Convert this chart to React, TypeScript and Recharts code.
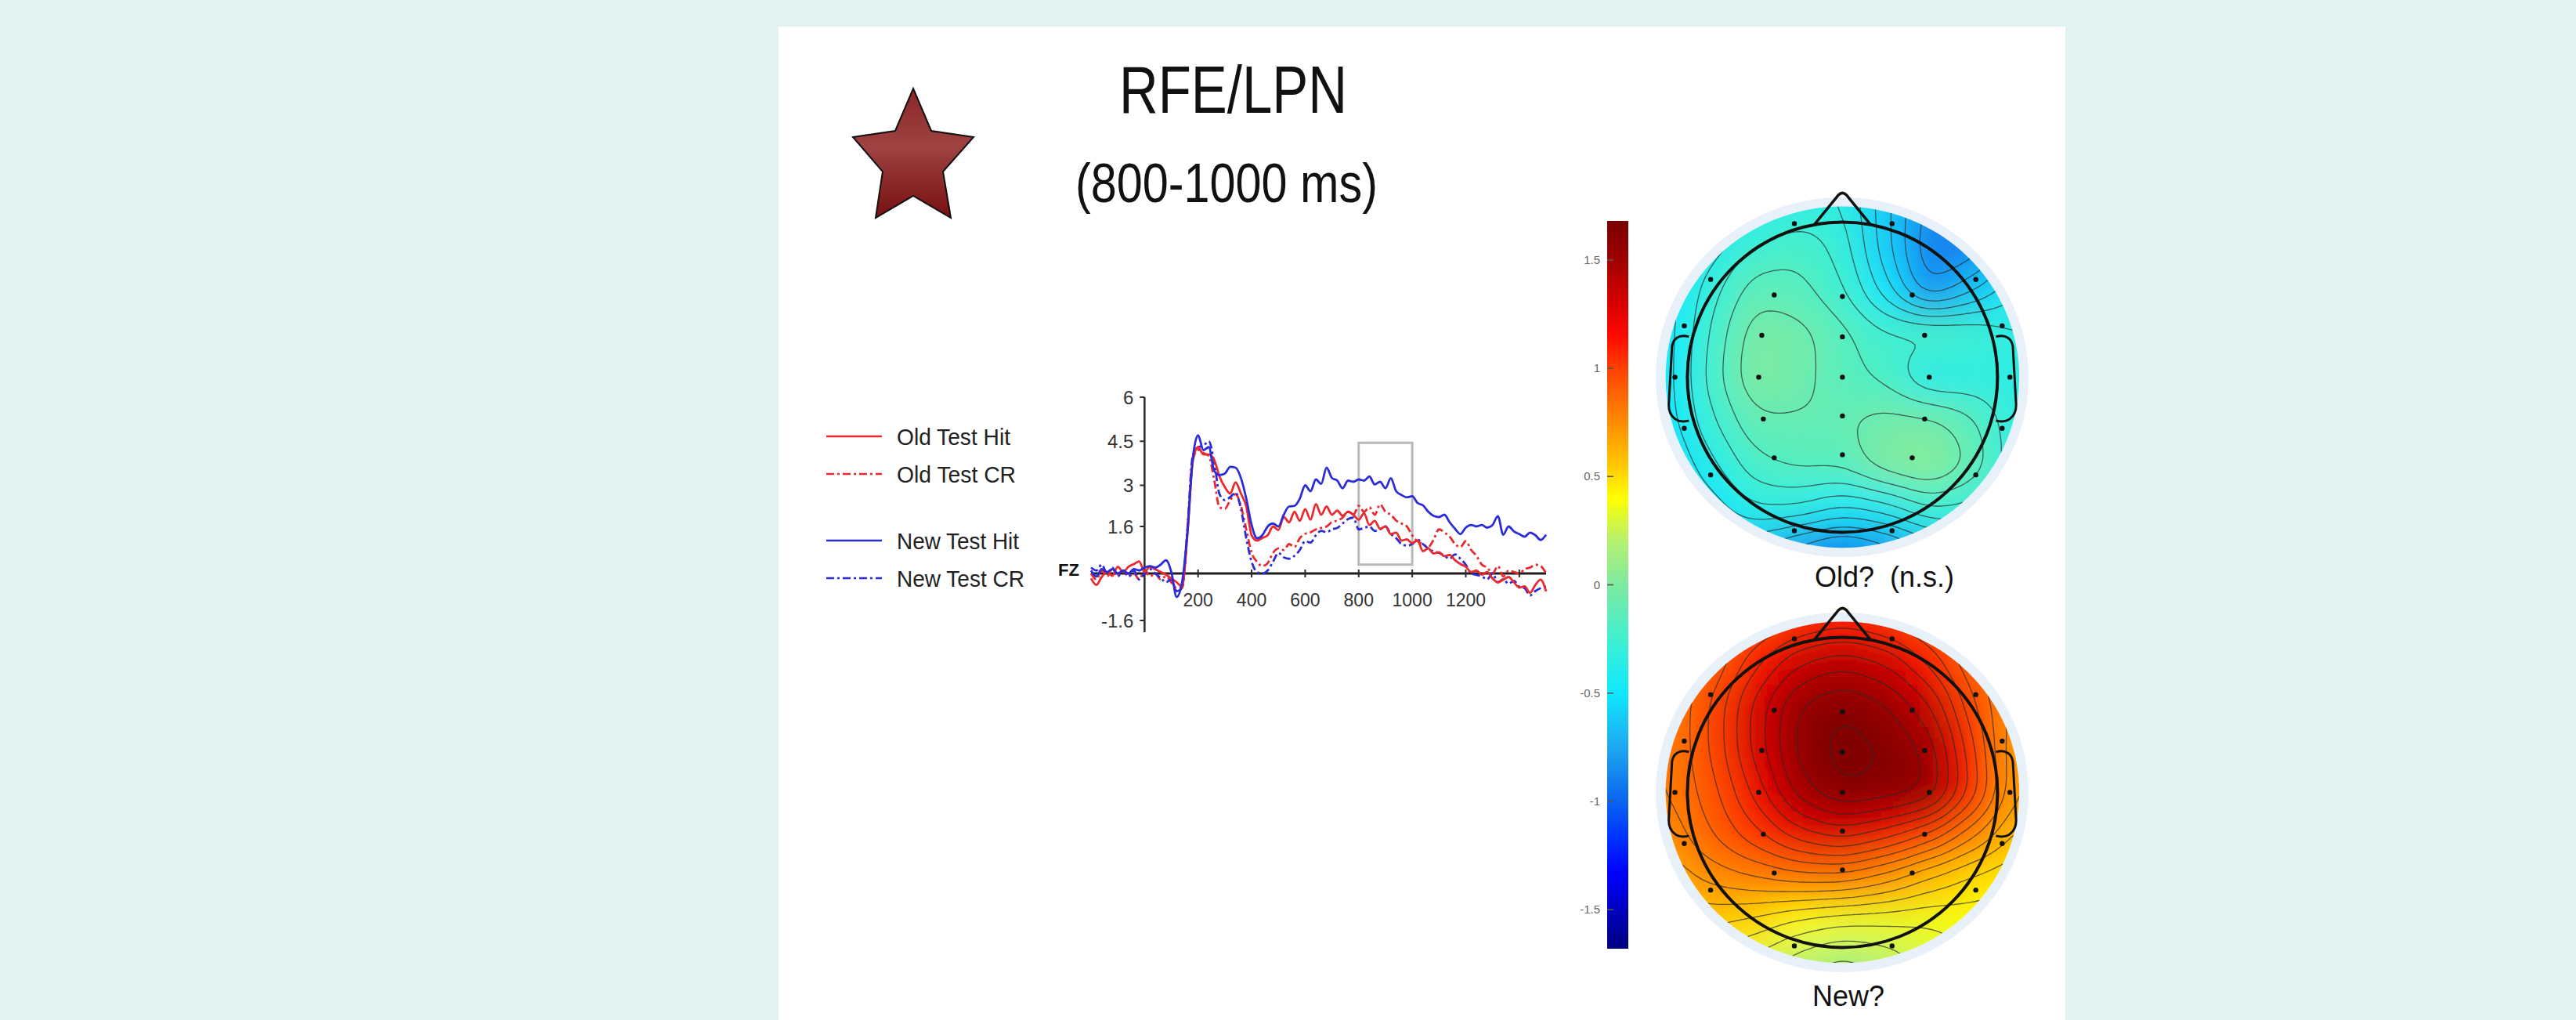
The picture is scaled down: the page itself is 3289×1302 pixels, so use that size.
import React from "react";
import {
  LineChart,
  Line,
  XAxis,
  YAxis,
  ReferenceLine,
  ReferenceArea,
  ReferenceDot,
  Legend,
  ScatterChart,
  Scatter,
  ComposedChart,
} from "recharts";

const SANS = "'Liberation Sans', Arial, sans-serif";
const RED = "#ea2a2e";
const BLUE = "#2b2bd8";

// ERP at FZ, sampled every 20 ms from -200 to 1500 ms
const TIMES = Array.from({ length: 86 }, (_, i) => -200 + i * 20);

const OLD_HIT = [
  -0.17, -0.39, -0.12, 0.05, -0.08, 0.23, 0.05, 0.23, 0.32, 0.41,
  0.05, 0.23, 0.14, 0.05, -0.04, -0.17, -0.3, -0.45, 1.3, 3.8,
  4.3, 4.05, 4.05, 3.87, 3.3, 2.94, 2.72, 3.1, 2.72, 2.28,
  1.3, 1.12, 1.21, 1.3, 1.6, 1.48, 1.92, 1.74, 2.1, 1.79,
  2.19, 1.83, 2.36, 2.0, 2.28, 2.0, 2.14, 1.96, 2.1, 2.0,
  1.83, 2.05, 1.65, 1.79, 1.52, 1.6, 1.34, 1.39, 1.12, 1.16,
  1.03, 1.12, 0.76, 0.85, 0.68, 0.72, 0.59, 0.63, 0.45, 0.32,
  0.23, 0.05, 0.1, -0.04, 0.05, -0.17, -0.3, -0.21, -0.12, -0.3,
  -0.48, -0.44, -0.66, -0.39, -0.21, -0.61,
];

const OLD_CR = [
  0.0, -0.2, 0.1, -0.1, 0.15, -0.05, 0.1, -0.1, 0.0, -0.2,
  0.1, -0.1, 0.0, -0.2, -0.1, -0.3, -0.5, -0.5, 1.4, 3.9,
  4.2, 4.1, 4.0, 3.2, 2.25, 2.2, 2.5, 2.7, 2.3, 1.5,
  0.7, 0.4, 0.25, 0.35, 0.7, 0.85, 0.8, 1.0, 0.9, 1.2,
  1.35, 1.4, 1.5, 1.55, 1.6, 1.75, 1.8, 1.9, 2.1, 2.0,
  2.3, 2.1, 2.25, 2.0, 2.35, 2.1, 2.0, 1.8, 1.7, 1.6,
  1.3, 1.1, 1.0, 0.9, 1.15, 1.5, 1.4, 1.25, 1.0, 0.9,
  1.1, 0.8, 0.6, 0.3, 0.2, 0.0, 0.25, -0.1, 0.1, 0.05,
  0.0, 0.15, 0.2, 0.3, 0.25, 0.0,
];

const NEW_HIT = [
  0.1, -0.1, 0.15, 0.05, 0.15, 0.0, 0.1, 0.0, 0.15, 0.1,
  0.2, 0.25, 0.2, 0.3, 0.45, 0.05, -0.8, -0.3, 1.4, 3.9,
  4.7, 4.2, 4.3, 3.5, 3.35, 3.4, 3.63, 3.6, 3.25, 2.55,
  1.65, 1.2, 1.3, 1.6, 1.7, 1.6, 2.0, 2.28, 2.3, 2.55,
  3.0, 2.8, 3.2, 3.05, 3.6, 3.25, 3.16, 2.9, 3.16, 3.12,
  3.2, 3.16, 3.3, 3.03, 3.12, 2.9, 3.24, 2.8, 2.67, 2.59,
  2.63, 2.4, 2.32, 2.1, 1.96, 1.92, 2.0, 1.74, 1.52, 1.34,
  1.56, 1.65, 1.6, 1.65, 1.56, 1.65, 1.95, 1.32, 1.6, 1.43,
  1.34, 1.25, 1.39, 1.3, 1.14, 1.32,
];

const NEW_CR = [
  0.2, 0.1, 0.3, 0.0, 0.2, -0.1, 0.1, -0.1, 0.1, -0.2,
  0.0, 0.15, 0.0, -0.15, -0.3, -0.2, -0.6, -0.5, 1.5, 4.0,
  4.3, 4.35, 4.5, 3.8, 2.7, 2.5, 2.6, 2.75, 2.2, 1.2,
  0.4, 0.05, 0.0, 0.1, 0.4, 0.7, 0.55, 0.5, 0.6, 0.8,
  1.1, 1.05, 1.3, 1.45, 1.4, 1.5, 1.55, 1.7, 1.85, 1.9,
  1.5, 1.55, 1.6, 1.45, 1.5, 1.6, 1.35, 1.2, 1.0, 0.95,
  1.0, 1.15, 1.0, 0.85, 0.75, 0.7, 0.6, 0.5, 0.65, 0.5,
  0.3, 0.0, -0.05, -0.1, -0.2, 0.0, -0.3, -0.2, -0.35, -0.25,
  -0.45, -0.5, -0.75, -0.6, -0.5, -0.45,
];

const Y_TICKS = [6, 4.5, 3, 1.6, -1.6];
const X_TICKS = [200, 400, 600, 800, 1000, 1200, 1400];
const X_LABELS = ["200", "400", "600", "800", "1000", "1200", ""];

// legend order; drawing order puts the solid lines on top
const SERIES = [
  { key: "oldHit", name: "Old Test Hit", color: RED, dash: undefined as string | undefined, values: OLD_HIT, textW: 145 },
  { key: "oldCR", name: "Old Test CR", color: RED, dash: "10 4 3 4", values: OLD_CR, textW: 152 },
  { key: "newHit", name: "New Test Hit", color: BLUE, dash: undefined as string | undefined, values: NEW_HIT, textW: 156 },
  { key: "newCR", name: "New Test CR", color: BLUE, dash: "10 4 3 4", values: NEW_CR, textW: 163 },
];
const DRAW_ORDER = ["oldCR", "newCR", "oldHit", "newHit"];

// colour scale (microvolts)
const CB_MIN = -1.68;
const CB_MAX = 1.68;
const CB_TICKS = [1.5, 1, 0.5, 0, -0.5, -1, -1.5];
const JET_VALUES = [-1.68, -1.5, -1.33, -1.15, -1.0, -0.75, -0.5, -0.25, 0, 0.2, 0.4, 0.55, 0.75, 1.0, 1.15, 1.3, 1.5, 1.68];
const JET_COLORS = [
  "#000080", "#0000c0", "#0000ff", "#0038ff", "#0a64f0", "#1ea8f0", "#10e8ff", "#40f0d0", "#7eeaa0",
  "#b4f070", "#ffff00", "#ffc800", "#ff8c00", "#ff4000", "#ff0800", "#d80000", "#a00000", "#780000",
];

// topomap sample grid (head radius = 1, y grows toward the back of the head)
const GRID = [-1.12, -0.84, -0.56, -0.28, 0, 0.28, 0.56, 0.84, 1.12];
const OLD_MAP = [
  [-0.6, -0.55, -0.45, -0.35, -0.35, -0.6, -0.85, -0.85, -0.75],
  [-0.55, -0.4, -0.25, -0.2, -0.3, -0.6, -0.9, -0.9, -0.65],
  [-0.5, -0.3, -0.12, -0.15, -0.25, -0.5, -0.85, -0.65, -0.45],
  [-0.5, -0.25, -0.02, -0.05, -0.15, -0.25, -0.2, -0.25, -0.35],
  [-0.5, -0.22, 0.0, -0.05, -0.15, -0.2, -0.4, -0.35, -0.35],
  [-0.5, -0.28, -0.1, -0.1, -0.1, -0.05, -0.05, -0.15, -0.35],
  [-0.55, -0.38, -0.2, -0.15, -0.15, 0.0, 0.05, -0.1, -0.35],
  [-0.6, -0.5, -0.35, -0.35, -0.45, -0.4, -0.25, -0.3, -0.4],
  [-0.65, -0.6, -0.65, -0.8, -0.9, -0.8, -0.65, -0.5, -0.5],
];
const NEW_MAP = [
  [0.8, 0.85, 0.95, 1.05, 1.1, 1.05, 0.95, 0.85, 0.75],
  [0.8, 0.9, 1.15, 1.35, 1.42, 1.35, 1.15, 0.9, 0.75],
  [0.8, 1.0, 1.3, 1.55, 1.62, 1.55, 1.38, 1.0, 0.75],
  [0.8, 1.0, 1.3, 1.57, 1.66, 1.62, 1.52, 1.1, 0.7],
  [0.8, 0.95, 1.2, 1.5, 1.63, 1.6, 1.56, 1.15, 0.7],
  [0.75, 0.9, 1.05, 1.22, 1.3, 1.2, 1.05, 0.82, 0.6],
  [0.65, 0.75, 0.8, 0.85, 0.85, 0.75, 0.6, 0.5, 0.45],
  [0.55, 0.55, 0.5, 0.4, 0.35, 0.35, 0.35, 0.4, 0.4],
  [0.45, 0.4, 0.3, 0.2, 0.12, 0.2, 0.3, 0.35, 0.4],
];

const ELEC_X = [-0.31, 0.32, -0.85, -0.44, 0, 0.45, 0.86, -1.02, -0.52, 0, 0.53, 1.03, -1.08, -0.54, 0, 0.56, 1.08, -1.02, -0.51, 0, 0.53, 1.03, -0.85, -0.44, 0, 0.45, 0.86, -0.31, 0.32];
const ELEC_Y = [-0.99, -0.99, -0.63, -0.53, -0.52, -0.53, -0.63, -0.33, -0.27, -0.26, -0.27, -0.33, 0, 0, 0, 0, 0, 0.33, 0.27, 0.25, 0.27, 0.33, 0.63, 0.52, 0.5, 0.52, 0.63, 0.99, 0.99];

const UNIT = 198; // px per head radius
const SPAN = 1.3;
const TOPO_SIZE = 2 * SPAN * UNIT;
const HALF_CELL = 0.14;
const CELL_PX = 2 * HALF_CELL * UNIT + 1;
const EDGE_U = 0.3; // border cells are stretched outward so the blur does not fade at the rim
const EDGE_PX = EDGE_U * UNIT;
const DISC_RX = 1.14;
const DISC_RY = 1.1;
const FIELD_HALF = GRID[GRID.length - 1] + CELL_PX / 2 / UNIT + EDGE_U;
const BLUR_PX = 24;
const CONTOUR_STEP = 0.09;

function hexToRgb(h: string) {
  return [1, 3, 5].map((i) => parseInt(h.slice(i, i + 2), 16));
}

function jet(v: number) {
  const x = Math.max(CB_MIN, Math.min(CB_MAX, v));
  let i = 0;
  while (i < JET_VALUES.length - 2 && x > JET_VALUES[i + 1]) i++;
  const f = (x - JET_VALUES[i]) / (JET_VALUES[i + 1] - JET_VALUES[i]);
  const a = hexToRgb(JET_COLORS[i]);
  const b = hexToRgb(JET_COLORS[i + 1]);
  const c = a.map((ch, k) => Math.round(ch + (b[k] - ch) * f));
  return `rgb(${c[0]},${c[1]},${c[2]})`;
}

// contour lines of the same blurred field that the fill shows
function erf(x: number) {
  const t = 1 / (1 + 0.3275911 * Math.abs(x));
  const y = 1 - ((((1.061405429 * t - 1.453152027) * t + 1.421413741) * t - 0.284496736) * t + 0.254829592) * t * Math.exp(-x * x);
  return x >= 0 ? y : -y;
}
const phi = (z: number) => 0.5 * (1 + erf(z / Math.SQRT2));

function tileWeights(p: number) {
  const s = BLUR_PX / UNIT;
  const last = GRID.length - 1;
  return GRID.map((g, k) => {
    const lo = g - HALF_CELL - (k === 0 ? EDGE_U : 0);
    const hi = g + HALF_CELL + (k === last ? EDGE_U : 0);
    return phi((hi - p) / s) - phi((lo - p) / s);
  });
}

function contourSegments(rows: number[][]) {
  const N = 100;
  const lim = 1.16;
  const coords = Array.from({ length: N + 1 }, (_, i) => -lim + (2 * lim * i) / N);
  const w = coords.map(tileWeights);
  const f = coords.map((_, j) =>
    coords.map((_, i) => {
      let num = 0;
      let den = 0;
      rows.forEach((row, r) =>
        row.forEach((v, c) => {
          const ww = w[j][r] * w[i][c];
          num += v * ww;
          den += ww;
        })
      );
      return num / den;
    })
  );
  let min = Infinity;
  let max = -Infinity;
  f.forEach((row) => row.forEach((v) => ((min = Math.min(min, v)), (max = Math.max(max, v)))));
  const segs: number[][] = [];
  for (let L = Math.ceil(min / CONTOUR_STEP) * CONTOUR_STEP + 0.0001; L < max; L += CONTOUR_STEP) {
    for (let j = 0; j < N; j++) {
      for (let i = 0; i < N; i++) {
        const a = f[j][i], b = f[j][i + 1], c = f[j + 1][i + 1], d = f[j + 1][i];
        const x0 = coords[i], x1 = coords[i + 1], y0 = coords[j], y1 = coords[j + 1];
        const pts: number[][] = [];
        if (a < L !== b < L) pts.push([x0 + ((x1 - x0) * (L - a)) / (b - a), y0]);
        if (b < L !== c < L) pts.push([x1, y0 + ((y1 - y0) * (L - b)) / (c - b)]);
        if (c < L !== d < L) pts.push([x1 - ((x1 - x0) * (L - c)) / (d - c), y1]);
        if (d < L !== a < L) pts.push([x0, y1 - ((y1 - y0) * (L - d)) / (a - d)]);
        if (pts.length >= 2) segs.push([...pts[0], ...pts[1]]);
        if (pts.length === 4) segs.push([...pts[2], ...pts[3]]);
      }
    }
  }
  return segs;
}

const OLD_CONTOURS = contourSegments(OLD_MAP);
const NEW_CONTOURS = contourSegments(NEW_MAP);

const erpData = TIMES.map((t, i) => {
  const row: Record<string, number> = { t };
  SERIES.forEach((s) => (row[s.key] = s.values[i]));
  return row;
});

const ErpLegend = () => (
  <svg width={330} height={300}>
    {SERIES.map((s, i) => {
      const y = 77 + i * 48 + (i > 1 ? 37 : 0);
      return (
        <g key={s.key}>
          <line x1={15} x2={86} y1={y} y2={y} stroke={s.color} strokeWidth={2.5} strokeDasharray={s.dash} />
          <text
            x={105}
            y={y + 10.5}
            fontSize={29}
            fontFamily={SANS}
            fill="#222"
            textLength={s.textW}
            lengthAdjust="spacingAndGlyphs"
          >
            {s.name}
          </text>
        </g>
      );
    })}
  </svg>
);

function ErpChart() {
  return (
    <LineChart width={960} height={350} data={erpData} margin={{ top: 27, right: 26, bottom: 23, left: 353 }}>
      <XAxis dataKey="t" type="number" domain={[-200, 1500]} hide />
      <YAxis type="number" domain={[-2, 6]} hide />
      <ReferenceArea x1={800} x2={1000} y1={0.3} y2={4.45} fill="none" stroke="#b9b9b9" strokeWidth={3} />
      <ReferenceLine y={0} stroke="#1e1e1e" strokeWidth={3} />
      <ReferenceLine x={0} stroke="#2a2a2a" strokeWidth={2.5} />
      {Y_TICKS.map((v) => (
        <ReferenceDot
          key={"y" + v}
          x={0}
          y={v}
          shape={(p: any) => (
            <g>
              <line x1={p.cx - 6} x2={p.cx} y1={p.cy} y2={p.cy} stroke="#2a2a2a" strokeWidth={2} />
              <text x={p.cx - 14} y={p.cy + 8.5} textAnchor="end" fontSize={24} fontFamily={SANS} fill="#333">
                {v}
              </text>
            </g>
          )}
        />
      ))}
      {X_TICKS.map((t, i) => (
        <ReferenceDot
          key={"x" + t}
          x={t}
          y={0}
          shape={(p: any) => (
            <g>
              <line x1={p.cx} x2={p.cx} y1={p.cy - 5} y2={p.cy + 5} stroke="#2a2a2a" strokeWidth={2} />
              <text x={p.cx} y={p.cy + 42} textAnchor="middle" fontSize={23} fontFamily={SANS} fill="#333">
                {X_LABELS[i]}
              </text>
            </g>
          )}
        />
      ))}
      <ReferenceDot
        x={-200}
        y={0}
        shape={(p: any) => (
          <text x={p.cx - 15} y={p.cy + 3} textAnchor="end" fontSize={22} fontWeight="bold" fontFamily={SANS} fill="#111">
            FZ
          </text>
        )}
      />
      {DRAW_ORDER.map((k) => {
        const s = SERIES.find((x) => x.key === k)!;
        return (
          <Line
            key={k}
            dataKey={k}
            name={s.name}
            type="monotone"
            stroke={s.color}
            strokeWidth={2.8}
            strokeDasharray={s.dash}
            dot={false}
            isAnimationActive={false}
          />
        );
      })}
      <Legend
        layout="vertical"
        align="center"
        verticalAlign="middle"
        content={() => <ErpLegend />}
        wrapperStyle={{ left: 0, top: 0, width: 330, height: 300 }}
      />
    </LineChart>
  );
}

function ColorBar() {
  return (
    <ComposedChart
      width={100}
      height={950}
      data={CB_TICKS.map((v) => ({ x: 0, v }))}
      margin={{ top: 10, right: 11, bottom: 11, left: 62 }}
    >
      <XAxis type="number" dataKey="x" domain={[0, 1]} hide />
      <YAxis type="number" dataKey="v" domain={[CB_MIN, CB_MAX]} hide />
      <ReferenceArea x1={0} x2={1} y1={CB_MIN} y2={CB_MAX} fill="url(#jetGrad)" fillOpacity={1} stroke="none" />
      {CB_TICKS.map((v) => (
        <ReferenceLine key={"t" + v} segment={[{ x: 0, y: v }, { x: 0.3, y: v }]} stroke="#555" strokeWidth={1.5} />
      ))}
      {CB_TICKS.map((v) => (
        <ReferenceDot
          key={"l" + v}
          x={0}
          y={v}
          shape={(p: any) => (
            <text x={p.cx - 9} y={p.cy + 5} textAnchor="end" fontSize={15} fontFamily={SANS} fill="#666">
              {v}
            </text>
          )}
        />
      ))}
    </ComposedChart>
  );
}

const HeadOutline = ({ cx, cy }: { cx: number; cy: number }) => {
  const u = UNIT;
  const px = (x: number) => cx + x * u;
  const py = (y: number) => cy + y * u;
  const ear = (s: number) =>
    `M${px(s * 0.99)},${py(-0.26)} C${px(s * 1.05)},${py(-0.28)} ${px(s * 1.1)},${py(-0.25)} ${px(s * 1.1)},${py(-0.18)} ` +
    `L${px(s * 1.12)},${py(0.18)} C${px(s * 1.12)},${py(0.26)} ${px(s * 1.06)},${py(0.3)} ${px(s * 0.99)},${py(0.28)}`;
  return (
    <g fill="none" stroke="#111">
      <circle cx={cx} cy={cy} r={u} strokeWidth={4} />
      <path
        d={`M${px(-0.18)},${py(-0.985)} L${px(-0.025)},${py(-1.175)} Q${px(0)},${py(-1.2)} ${px(0.025)},${py(-1.175)} L${px(0.18)},${py(-0.985)}`}
        strokeWidth={3.5}
      />
      <path d={ear(-1)} strokeWidth={3} />
      <path d={ear(1)} strokeWidth={3} />
    </g>
  );
};

const Contours = ({ cx, cy, segs, id }: { cx: number; cy: number; segs: number[][]; id: string }) => {
  const px = (x: number) => (cx + x * UNIT).toFixed(1);
  const py = (y: number) => (cy + y * UNIT).toFixed(1);
  const d = segs.map((s) => `M${px(s[0])},${py(s[1])}L${px(s[2])},${py(s[3])}`).join("");
  return (
    <g>
      <clipPath id={id}>
        <ellipse cx={cx} cy={cy} rx={DISC_RX * UNIT} ry={DISC_RY * UNIT} />
      </clipPath>
      <path d={d} clipPath={`url(#${id})`} fill="none" stroke="#2a2a2a" strokeWidth={1.3} strokeOpacity={0.7} strokeLinecap="round" />
    </g>
  );
};

function Topomap({ rows, segs, id, cx, cy }: { rows: number[][]; segs: number[][]; id: string; cx: number; cy: number }) {
  const last = GRID.length - 1;
  const cells = rows.flatMap((row, r) => row.map((v, c) => ({ x: GRID[c], y: GRID[r], v, r, c })));
  const electrodes = ELEC_X.map((x, i) => ({ x, y: ELEC_Y[i] }));
  return (
    <>
      <div
        style={{
          position: "absolute",
          left: cx - 1.2 * UNIT,
          top: cy - 1.16 * UNIT,
          width: 2.4 * UNIT,
          height: 2.32 * UNIT,
          borderRadius: "50%",
          background: "#e8f0f9",
        }}
      />
      <div style={{ position: "absolute", left: cx - TOPO_SIZE / 2, top: cy - TOPO_SIZE / 2 }}>
        <ScatterChart width={TOPO_SIZE} height={TOPO_SIZE} margin={{ top: 0, right: 0, bottom: 0, left: 0 }}>
          <XAxis type="number" dataKey="x" domain={[-SPAN, SPAN]} hide />
          <YAxis type="number" dataKey="y" domain={[-SPAN, SPAN]} reversed hide />
          <Scatter
            data={cells}
            className="topo-field"
            isAnimationActive={false}
            shape={(p: any) => {
              const { r, c, v } = p.payload;
              const x0 = p.cx - CELL_PX / 2 - (c === 0 ? EDGE_PX : 0);
              const x1 = p.cx + CELL_PX / 2 + (c === last ? EDGE_PX : 0);
              const y0 = p.cy - CELL_PX / 2 - (r === 0 ? EDGE_PX : 0);
              const y1 = p.cy + CELL_PX / 2 + (r === last ? EDGE_PX : 0);
              return <rect x={x0} y={y0} width={x1 - x0} height={y1 - y0} fill={jet(v)} />;
            }}
          />
          <ReferenceDot x={0} y={0} shape={(p: any) => <Contours cx={p.cx} cy={p.cy} segs={segs} id={id} />} />
          <Scatter
            data={electrodes}
            isAnimationActive={false}
            shape={(p: any) => <circle cx={p.cx} cy={p.cy} r={3.2} fill="#111" />}
          />
          <ReferenceDot x={0} y={0} shape={(p: any) => <HeadOutline cx={p.cx} cy={p.cy} />} />
        </ScatterChart>
      </div>
    </>
  );
}

export default function App() {
  return (
    <div style={{ position: "relative", width: 3289, height: 1302, background: "#e2f1f2", overflow: "hidden" }}>
      <style>{`
        body { margin: 0; }
        .topo-field { filter: url(#topoBlur); clip-path: url(#headClip); }
      `}</style>
      <svg width={0} height={0} style={{ position: "absolute" }}>
        <defs>
          <linearGradient id="jetGrad" x1="0" y1="1" x2="0" y2="0">
            {JET_VALUES.map((v, i) => (
              <stop key={v} offset={(v - CB_MIN) / (CB_MAX - CB_MIN)} stopColor={JET_COLORS[i]} />
            ))}
          </linearGradient>
          <clipPath id="headClip" clipPathUnits="objectBoundingBox">
            <ellipse cx="0.5" cy="0.5" rx={DISC_RX / (2 * FIELD_HALF)} ry={DISC_RY / (2 * FIELD_HALF)} />
          </clipPath>
          <filter id="topoBlur" x="-10%" y="-10%" width="120%" height="120%">
            <feGaussianBlur stdDeviation={BLUR_PX} />
          </filter>
          <linearGradient id="starGrad" x1="0" y1="0" x2="0" y2="1">
            <stop offset="0" stopColor="#8a2626" />
            <stop offset="0.45" stopColor="#9e4242" />
            <stop offset="1" stopColor="#781010" />
          </linearGradient>
        </defs>
      </svg>
      <div style={{ position: "absolute", left: 994, top: 34, width: 1643, height: 1268, background: "#ffffff" }} />
      <svg width={3289} height={1302} style={{ position: "absolute", left: 0, top: 0 }}>
        <polygon
          points="1166,113 1189,167 1243,175 1204,219 1214,278 1166,250 1118,278 1127,219 1089,175 1143,167"
          fill="url(#starGrad)"
          stroke="#111"
          strokeWidth={2}
        />
        <text x={1429} y={144} fontSize={85} fontFamily={SANS} fill="#111" textLength={291} lengthAdjust="spacingAndGlyphs">
          RFE/LPN
        </text>
        <text x={1373} y={258} fontSize={70} fontFamily={SANS} fill="#111" textLength={386} lengthAdjust="spacingAndGlyphs">
          (800-1000 ms)
        </text>
        <text x={2317} y={749} fontSize={36} fontFamily={SANS} fill="#111" style={{ whiteSpace: "pre" }}>
          {"Old?  (n.s.)"}
        </text>
        <text x={2360} y={1284} textAnchor="middle" fontSize={36} fontFamily={SANS} fill="#111">
          New?
        </text>
      </svg>
      <div style={{ position: "absolute", left: 1040, top: 480 }}>
        <ErpChart />
      </div>
      <div style={{ position: "absolute", left: 1990, top: 272 }}>
        <ColorBar />
      </div>
      <Topomap rows={OLD_MAP} segs={OLD_CONTOURS} id="discOld" cx={2352} cy={481.5} />
      <Topomap rows={NEW_MAP} segs={NEW_CONTOURS} id="discNew" cx={2352} cy={1011.5} />
    </div>
  );
}
